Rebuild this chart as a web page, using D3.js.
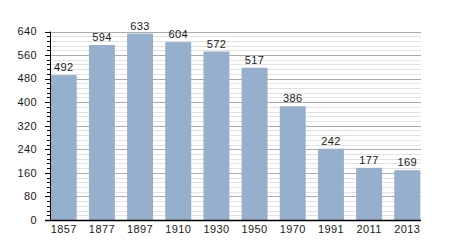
<!DOCTYPE html>
<html>
<head>
<meta charset="utf-8">
<script src="https://cdn.jsdelivr.net/npm/d3@7"></script>
<style>
  body { margin: 0; background: #fff; }
  text { font-family: "Liberation Sans", Arial, sans-serif; font-size: 11px; letter-spacing: 0.4px; fill: #1a1a1a; }
</style>
</head>
<body>
<script>
// data
var years = ["1857", "1877", "1897", "1910", "1930", "1950", "1970", "1991", "2011", "2013"];
var population = [492, 594, 633, 604, 572, 517, 386, 242, 177, 169];
var yTicks = [0, 80, 160, 240, 320, 400, 480, 560, 640];

var width = 450, height = 250;
var plotLeft = 50, plotRight = 421, plotTop = 31.5, plotBottom = 220;

var svg = d3.select("body").append("svg")
    .attr("width", width)
    .attr("height", height);

var x = d3.scaleBand()
    .domain(years)
    .range([plotLeft, plotRight])
    .paddingInner(0.32)
    .paddingOuter(0.02);

var y = d3.scaleLinear()
    .domain([0, 640])
    .range([plotBottom, plotTop]);

var minor = d3.range(0, 641, 16);

// minor grid
svg.append("g").selectAll("line")
    .data(minor.filter(function(d) { return d % 80 != 0; }))
    .enter().append("line")
    .attr("x1", plotLeft).attr("x2", plotRight)
    .attr("y1", function(d) { return Math.round(y(d)) + 0.5; })
    .attr("y2", function(d) { return Math.round(y(d)) + 0.5; })
    .attr("stroke", "#e2e2e2");

// major grid
svg.append("g").selectAll("line")
    .data(yTicks.slice(1))
    .enter().append("line")
    .attr("x1", plotLeft).attr("x2", plotRight)
    .attr("y1", function(d) { return Math.round(y(d)) + 0.5; })
    .attr("y2", function(d) { return Math.round(y(d)) + 0.5; })
    .attr("stroke", "#ababab");

// bars
svg.append("g").selectAll("rect")
    .data(population)
    .enter().append("rect")
    .attr("x", function(d, i) { return x(years[i]); })
    .attr("width", x.bandwidth())
    .attr("y", function(d) { return y(d); })
    .attr("height", function(d) { return plotBottom - y(d); })
    .attr("fill", "#95afcc");

// value labels
svg.append("g").selectAll("text")
    .data(population)
    .enter().append("text")
    .attr("x", function(d, i) { return x(years[i]) + x.bandwidth() / 2; })
    .attr("y", function(d) { return y(d) - 4; })
    .attr("text-anchor", "middle")
    .text(function(d) { return d; });

// y axis
var yAxis = svg.append("g");
yAxis.append("line")
    .attr("x1", plotLeft + 0.5).attr("x2", plotLeft + 0.5)
    .attr("y1", plotTop).attr("y2", plotBottom)
    .attr("stroke", "#000");
yAxis.selectAll(".tick")
    .data(minor)
    .enter().append("line")
    .attr("class", "tick")
    .attr("x1", function(d) { return d % 80 == 0 ? plotLeft - 5 : plotLeft - 3; })
    .attr("x2", plotLeft)
    .attr("y1", function(d) { return Math.round(y(d)) + 0.5; })
    .attr("y2", function(d) { return Math.round(y(d)) + 0.5; })
    .attr("stroke", "#000");
yAxis.selectAll("text")
    .data(yTicks)
    .enter().append("text")
    .attr("x", plotLeft - 13)
    .attr("y", function(d) { return y(d); })
    .attr("dy", "0.35em")
    .attr("text-anchor", "end")
    .text(function(d) { return d; });

// x axis
svg.append("line")
    .attr("x1", plotLeft - 5).attr("x2", plotRight)
    .attr("y1", plotBottom + 0.5).attr("y2", plotBottom + 0.5)
    .attr("stroke", "#000")
    .attr("stroke-width", 1.3);

svg.append("g").selectAll("text")
    .data(years)
    .enter().append("text")
    .attr("x", function(d) { return x(d) + x.bandwidth() / 2; })
    .attr("y", plotBottom + 13)
    .attr("text-anchor", "middle")
    .text(function(d) { return d; });
</script>
</body>
</html>
